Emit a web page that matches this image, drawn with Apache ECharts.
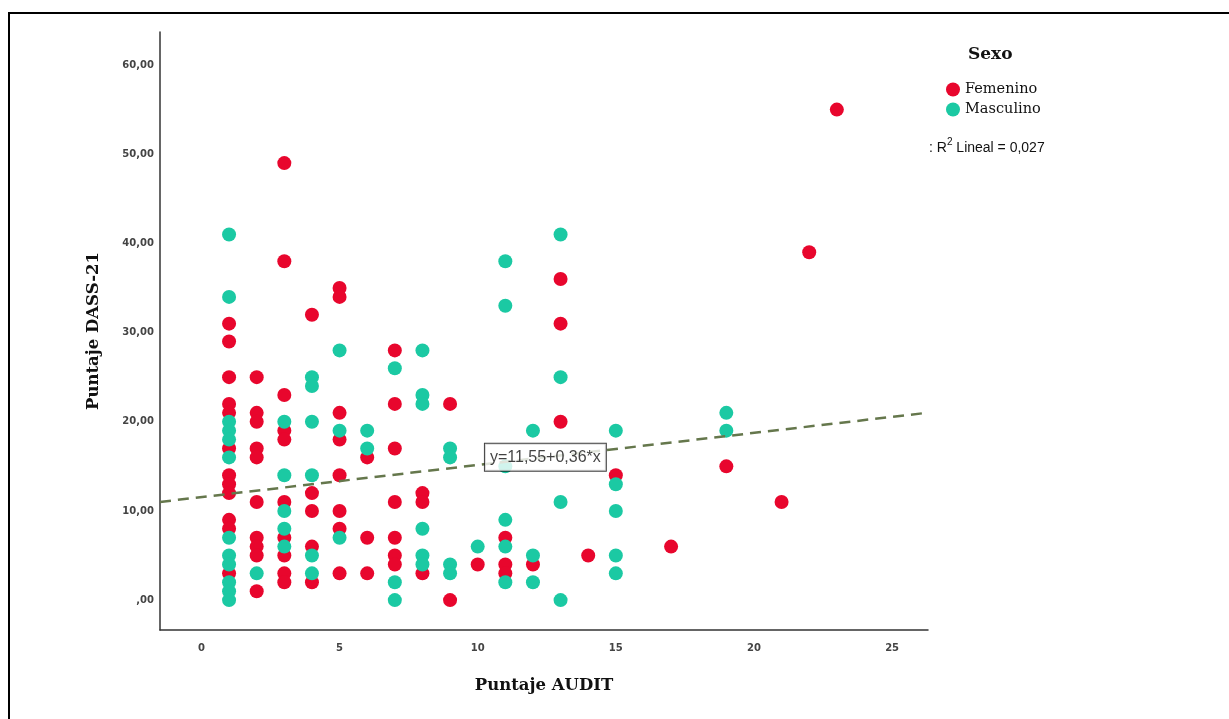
<!DOCTYPE html>
<html>
<head>
<meta charset="utf-8">
<script src="https://cdn.jsdelivr.net/npm/echarts@6/dist/echarts.min.js"></script>
<style>
html,body{margin:0;padding:0;background:#fff;}
#frame{position:absolute;left:8px;top:12px;right:0;bottom:0;border-top:2.5px solid #000;border-left:2.5px solid #000;}
#chart{position:absolute;left:0;top:0;width:1229px;height:719px;}
</style>
</head>
<body>
<div id="frame"></div>
<div id="chart"></div>
<script>
// Femenino points: [Puntaje AUDIT, Puntaje DASS-21]
const femenino = [
  [1,31],[1,29],[1,25],[1,22],[1,21],[1,17],[1,14],[1,13],[1,12],[1,9],[1,8],[1,3],
  [2,25],[2,21],[2,20],[2,17],[2,16],[2,11],[2,7],[2,6],[2,5],[2,1],
  [3,49],[3,38],[3,23],[3,19],[3,18],[3,11],[3,7],[3,5],[3,3],[3,2],
  [4,32],[4,12],[4,10],[4,6],[4,2],
  [5,35],[5,34],[5,21],[5,18],[5,14],[5,10],[5,8],[5,3],
  [6,16],[6,7],[6,3],
  [7,28],[7,22],[7,17],[7,11],[7,7],[7,5],[7,4],
  [8,12],[8,11],[8,3],
  [9,22],[9,0],
  [10,4],
  [11,7],[11,4],[11,3],
  [12,4],
  [13,36],[13,31],[13,20],
  [14,5],
  [15,14],
  [17,6],
  [19,15],
  [21,11],
  [22,39],
  [23,55]
];
// Masculino points
const masculino = [
  [1,41],[1,34],[1,20],[1,19],[1,18],[1,16],[1,7],[1,5],[1,4],[1,2],[1,1],[1,0],
  [2,3],
  [3,20],[3,14],[3,10],[3,8],[3,6],
  [4,25],[4,24],[4,20],[4,14],[4,5],[4,3],
  [5,28],[5,19],[5,7],
  [6,19],[6,17],
  [7,26],[7,2],[7,0],
  [8,28],[8,23],[8,22],[8,8],[8,5],[8,4],
  [9,17],[9,16],[9,4],[9,3],
  [10,6],
  [11,38],[11,33],[11,15],[11,9],[11,6],[11,2],
  [12,19],[12,5],[12,2],
  [13,41],[13,25],[13,11],[13,0],
  [15,19],[15,13],[15,10],[15,5],[15,3],
  [19,21],[19,19]
];
const xTicks = [0,5,10,15,20,25];
const yTicks = [0,10,20,30,40,50,60];
const fitIntercept = 11.55;
const fitSlope = 0.36;
const r2Text = '0,027';
const eqText = 'y=11,55+0,36*x';

const xMin = -1.5, xMax = 26.3, yMin = -3.35, yMax = 63.7;
const fitLine = [[xMin, fitIntercept + fitSlope*xMin],[xMax, fitIntercept + fitSlope*xMax]];
const eqX = 12.45;

const red = '#e8062d', teal = '#1bc9a3';
const chart = echarts.init(document.getElementById('chart'));
chart.setOption({
  animation:false,
  grid:{left:160, top:32, width:768, height:598, containLabel:false},
  xAxis:{
    type:'value', min:xMin, max:xMax,
    name:'Puntaje AUDIT', nameLocation:'middle', nameGap:47,
    nameTextStyle:{fontFamily:'DejaVu Serif', fontWeight:'bold', fontSize:16.5, color:'#111'},
    axisLine:{show:true, onZero:false, lineStyle:{color:'#333', width:1.5}},
    axisTick:{show:false},
    splitLine:{show:false},
    axisLabel:{customValues:xTicks, margin:13, fontFamily:'DejaVu Sans', fontWeight:'bold', fontSize:10, color:'#444'}
  },
  yAxis:{
    type:'value', min:yMin, max:yMax,
    name:'Puntaje DASS-21', nameLocation:'middle', nameGap:58,
    nameTextStyle:{fontFamily:'DejaVu Serif', fontWeight:'bold', fontSize:16.5, color:'#111'},
    axisLine:{show:true, onZero:false, lineStyle:{color:'#333', width:1.5}},
    axisTick:{show:false},
    splitLine:{show:false},
    axisLabel:{customValues:yTicks, margin:6, fontFamily:'DejaVu Sans', fontWeight:'bold', fontSize:10, color:'#444',
      formatter:function(v){ return v===0 ? ',00' : v.toFixed(2).replace('.',','); }}
  },
  legend:{
    orient:'vertical', left:941, top:77, itemWidth:14, itemHeight:14, itemGap:5,
    icon:'circle',
    textStyle:{fontFamily:'DejaVu Serif', fontSize:14.5, color:'#111'},
    data:['Femenino','Masculino']
  },
  graphic:[
    {type:'text', left:968, top:46, style:{text:'Sexo', font:'bold 17px "DejaVu Serif"', fill:'#111'}},
    {type:'text', left:929, top:137, style:{
      text:'{a|: R}{s|2}{a| Lineal = '+r2Text+'}',
      rich:{a:{fontFamily:'Liberation Sans', fontSize:14, fill:'#111', lineHeight:18, verticalAlign:'bottom'},
            s:{fontFamily:'Liberation Sans', fontSize:10, fill:'#111', lineHeight:11, verticalAlign:'top'}}
    }}
  ],
  series:[
    {
      name:'Femenino', type:'scatter', data:femenino, symbolSize:14,
      itemStyle:{color:red, opacity:1}, z:3
    },
    {
      name:'Masculino', type:'scatter', data:masculino, symbolSize:14,
      itemStyle:{color:teal, opacity:1}, z:4
    },
    {
      name:'fit', type:'line', data:fitLine, symbol:'none', z:5,
      lineStyle:{color:'#65774c', width:2.5, type:[11,7]}
    },
    {
      name:'eq', type:'scatter', z:10, symbolSize:2,
      data:[[eqX, fitIntercept + fitSlope*eqX]],
      itemStyle:{color:'rgba(0,0,0,0)'},
      label:{show:true, position:'inside', formatter:eqText,
        fontFamily:'Liberation Sans', fontSize:16, color:'#111',
        backgroundColor:'#fff', borderColor:'#111', borderWidth:1, padding:[6,5,5,5]}
    }
  ]
});
</script>
</body>
</html>
